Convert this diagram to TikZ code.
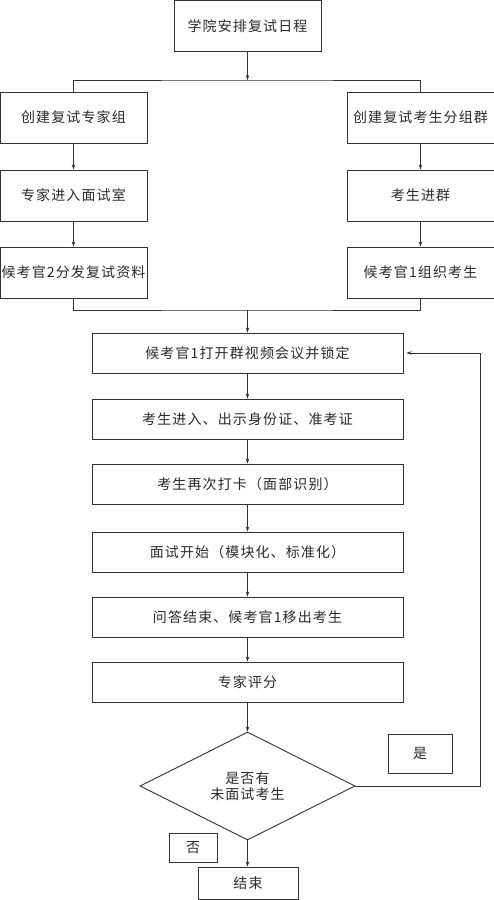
\documentclass[tikz,border=0pt]{standalone}
\usepackage{fontspec}
\newfontfamily\cjk[LetterSpace=8]{Noto Sans CJK SC}
\usetikzlibrary{shapes.geometric,arrows.meta}
\definecolor{ln}{HTML}{333333}
\definecolor{tx}{HTML}{2A2A2A}
\tikzset{
  box/.style={draw=ln, line width=0.9pt, rectangle, inner sep=0pt, text=tx, font=\cjk\fontsize{14}{16.5}\selectfont, align=center},
  lbox/.style={box, minimum width=147pt, minimum height=51pt},
  mbox/.style={box, minimum width=311pt, minimum height=40pt},
  arr/.style={draw=ln, line width=0.9pt, -{Stealth[length=5pt,width=3.5pt]}},
  ln/.style={draw=ln, line width=0.9pt}
}
\begin{document}
\begin{tikzpicture}[x=1pt,y=-1pt]
\useasboundingbox (0,0) rectangle (494,900);
\node[box, minimum width=147pt, minimum height=51pt] (top) at (247.5,26) {学院安排复试日程};
\node[lbox] (L1) at (73.5,117.5) {创建复试专家组};
\node[lbox] (R1) at (420.5,117.5) {创建复试考生分组群};
\node[lbox] (L2) at (73.5,195.5) {专家进入面试室};
\node[lbox] (R2) at (420.5,195.5) {考生进群};
\node[lbox] (L3) at (73.5,272.5) {候考官2分发复试资料};
\node[lbox] (R3) at (420.5,272.5) {候考官1组织考生};
\node[mbox] (M1) at (247.5,353) {候考官1打开群视频会议并锁定};
\node[mbox] (M2) at (247.5,419) {考生进入、出示身份证、准考证};
\node[mbox] (M3) at (247.5,484) {考生再次打卡（面部识别）};
\node[mbox] (M4) at (247.5,552) {面试开始（模块化、标准化）};
\node[mbox] (M5) at (247.5,617) {问答结束、候考官1移出考生};
\node[mbox] (M6) at (247.5,682) {专家评分};
\node[box, shape=diamond, minimum width=215pt, minimum height=108pt] (D) at (247.5,786) {是否有\\未面试考生};
\node[box, minimum width=64pt, minimum height=39pt] (Y) at (420,753.5) {是};
\node[box, minimum width=48pt, minimum height=29pt] (N) at (193,847.5) {否};
\node[box, minimum width=100pt, minimum height=32pt] (E) at (248,883) {结束};
\coordinate (j1) at (247.5,80);
\coordinate (j2) at (247.5,310);
\coordinate (lp) at (480,786);
\draw[arr] (top) -- (j1);
\draw[ln] (L1.north) |- (j1) -| (R1.north);
\draw[arr] (L1) -- (L2);
\draw[arr] (L2) -- (L3);
\draw[arr] (R1) -- (R2);
\draw[arr] (R2) -- (R3);
\draw[ln] (L3.south) |- (j2) -| (R3.south);
\draw[arr] (j2) -- (M1);
\draw[arr] (M1) -- (M2);
\draw[arr] (M2) -- (M3);
\draw[arr] (M3) -- (M4);
\draw[arr] (M4) -- (M5);
\draw[arr] (M5) -- (M6);
\draw[arr] (M6) -- (D);
\draw[arr] (D) -- (E.north -| D.south);
\draw[arr, shorten >=3pt] (D.east) -- (lp) |- (M1.east);
\end{tikzpicture}
\end{document}
